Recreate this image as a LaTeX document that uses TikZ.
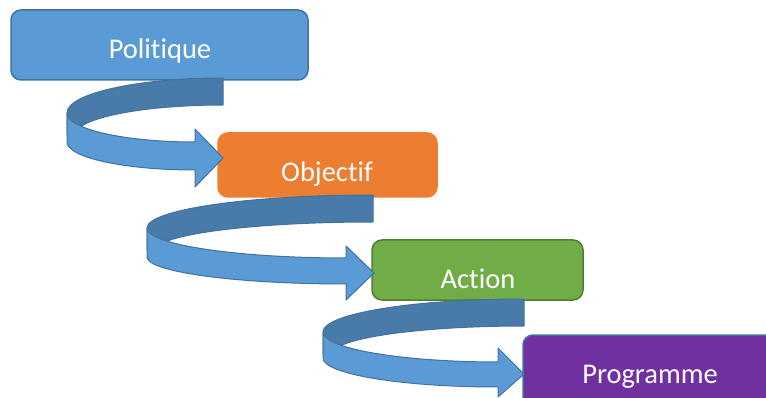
\documentclass[tikz,border=0pt]{standalone}
\usepackage{fontspec}
\setmainfont{Carlito}[Ligatures={NoCommon,NoContextual}]
\definecolor{cblue}{HTML}{5B9BD5}
\definecolor{cblueline}{HTML}{41719C}
\definecolor{cbluedark}{RGB}{72,123,170}
\definecolor{corange}{HTML}{ED7D31}
\definecolor{cgreen}{HTML}{70AD47}
\definecolor{cgreenline}{HTML}{507E32}
\definecolor{cpurple}{HTML}{7030A0}
\tikzset{
  box/.style={rounded corners=10pt, line width=1.5pt, inner sep=0pt},
  lbl/.style={text=white, font=\fontsize{28.5}{32}\selectfont, anchor=base, inner sep=0pt},
  ribback/.style={fill=cbluedark, draw=cblueline, line width=1pt, line join=round},
  ribfront/.style={fill=cblue, draw=cblueline, line width=1pt, line join=round},
}
% ribbon parameters are set with \def before each call
\newcommand\drawribbon{%
  \draw[ribback] (\rR,\rUt) .. controls ({\rR-0.552*(\rR-\rL)},\rUt) and (\rL,{\ryL-0.552*(\ryL-\rUt)}) .. (\rL,\ryL)
     -- (\rL,\ryLi) -- (\rLi,\ryLi)
     .. controls (\rLi,{\ryLi-0.552*(\ryLi-\rLt)}) and ({\rR-0.552*(\rR-\rLi)},\rLt) .. (\rR,\rLt) -- cycle;
  \draw[ribfront] (\rL,\ryL) .. controls (\rL,{\ryL+0.552*(\rst-\ryL)}) and ({\rxb-0.552*(\rxb-\rL)},\rst) .. (\rxb,\rst)
     -- (\rxb,\rht) -- (\rtx,\rty) -- (\rxb,\rhb) -- (\rxb,\rsb)
     .. controls ({\rxb-0.552*(\rxb-\rL)},\rsb) and (\rL,{\ryLb+0.552*(\rsb-\ryLb)}) .. (\rL,\ryLb) -- cycle;
}
\begin{document}
\begin{tikzpicture}[x=1pt,y=-1pt]
\useasboundingbox (0,0) rectangle (766,398);
\clip (0,0) rectangle (766,398);
% boxes
\node[box, fill=cblue, draw=cblueline, minimum width=297pt, minimum height=70pt] (pol) at (159.5,45) {};
\node[box, fill=corange, draw=corange, minimum width=219pt, minimum height=64pt] (obj) at (327.5,165) {};
\node[box, fill=cgreen, draw=cgreenline, minimum width=211pt, minimum height=60pt] (act) at (477.5,270) {};
\node[box, fill=cpurple, draw=cblueline, minimum width=262pt, minimum height=72pt] (prog) at (654,371) {};
% texts
\node[lbl] (polt) at (160,59) {Politique};
\node[lbl] (objt) at (327,182) {Objectif};
\node[lbl] (actt) at (478,288) {Action};
\node[lbl] (progt) at (650,383) {Programme};
% ribbon 1
\def\rR{223}\def\rUt{78}\def\rLt{105}\def\rL{67}\def\ryL{113}\def\ryLb{142}
\def\rLi{75}\def\ryLi{135}
\def\rxb{195}\def\rst{142}\def\rsb{170}\def\rht{129}\def\rhb{187}\def\rtx{223}\def\rty{158}
\drawribbon
% ribbon 2
\def\rR{373}\def\rUt{195}\def\rLt{222}\def\rL{147}\def\ryL{228}\def\ryLb{257}
\def\rLi{156}\def\ryLi{250}
\def\rxb{346}\def\rst{258}\def\rsb{284}\def\rht{246}\def\rhb{300}\def\rtx{374}\def\rty{273}
\drawribbon
% ribbon 3
\def\rR{524}\def\rUt{299}\def\rLt{326}\def\rL{323}\def\ryL{332}\def\ryLb{358}
\def\rLi{332}\def\ryLi{354}
\def\rxb{498}\def\rst{362}\def\rsb{387}\def\rht{348}\def\rhb{397}\def\rtx{524}\def\rty{374}
\drawribbon
\end{tikzpicture}
\end{document}
